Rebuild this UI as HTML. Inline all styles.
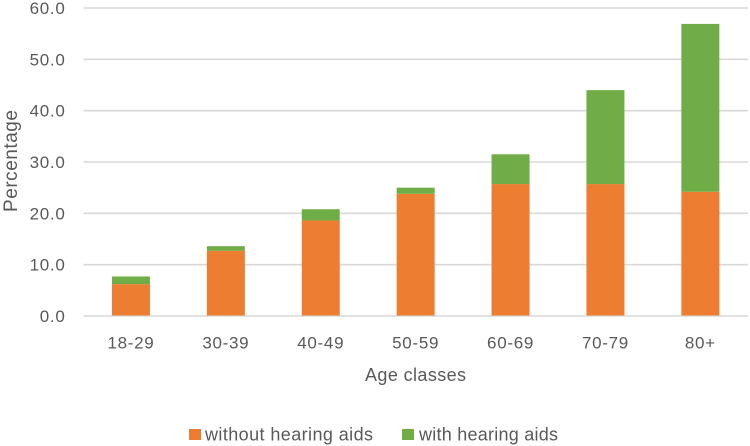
<!DOCTYPE html>
<html>
<head>
<meta charset="utf-8">
<style>
html,body{margin:0;padding:0;background:#fff;width:750px;height:446px;overflow:hidden}
svg{display:block;font-family:"Liberation Sans",sans-serif;fill:#595959;filter:blur(0.35px)}
</style>
</head>
<body>
<svg id="chart" width="750" height="446" viewBox="0 0 750 446" xmlns="http://www.w3.org/2000/svg">
  <text x="415.5" y="381" text-anchor="middle" font-size="18" textLength="101" lengthAdjust="spacing">Age classes</text>
  <text transform="translate(17,161) rotate(-90)" text-anchor="middle" font-size="19" textLength="102" lengthAdjust="spacing">Percentage</text>
  <rect x="189" y="429" width="12" height="11" fill="#ed7d31"/>
  <text x="205" y="440.5" font-size="18" textLength="168" lengthAdjust="spacing">without hearing aids</text>
  <rect x="402" y="429" width="12" height="11" fill="#70ad47"/>
  <text x="419" y="440.5" font-size="18" textLength="139" lengthAdjust="spacing">with hearing aids</text>
</svg>
<script>
const categories = ["18-29","30-39","40-49","50-59","60-69","70-79","80+"];
const withoutAids = [6.2,12.7,18.6,23.8,25.7,25.7,24.2];
const withAids = [1.5,0.9,2.2,1.2,5.8,18.3,32.7];
const yTicks = [0,10,20,30,40,50,60];
const yTickLabels = ["0.0","10.0","20.0","30.0","40.0","50.0","60.0"];
const seriesNames = ["without hearing aids","with hearing aids"];

const svg = document.getElementById('chart');
const NS = 'http://www.w3.org/2000/svg';
const left = 83.5, right = 748, y0 = 316, y60 = 8, barW = 38;
const yScale = v => y0 - (v / 60) * (y0 - y60);
const band = (right - left - 0.2) / categories.length;
const xCenter = i => left + band * (i + 0.5);

function make(tag, attrs, text) {
  const el = document.createElementNS(NS, tag);
  for (const k in attrs) el.setAttribute(k, attrs[k]);
  if (text !== undefined) el.textContent = text;
  svg.appendChild(el);
  return el;
}

yTicks.forEach((t, i) => {
  const line = make('line', {x1:left, x2:right, y1:yScale(t), y2:yScale(t), stroke:'#d9d9d9', 'stroke-width':1.6});
  
  
  const label = make('text', {x:65.5, y:yScale(t)+6, 'text-anchor':'end', 'font-size':17, 'letter-spacing':0.7}, yTickLabels[i]);
  
  
});

categories.forEach((c, i) => {
  const x = xCenter(i) - barW / 2;
  const a = make('rect', {x:x, y:yScale(withoutAids[i]), width:barW, height:y0 - yScale(withoutAids[i]) - 0.5, fill:'#ed7d31'});
  
  
  const total = withoutAids[i] + withAids[i];
  const b = make('rect', {x:x, y:yScale(total), width:barW, height:yScale(withoutAids[i]) - yScale(total), fill:'#70ad47'});
  
  
  const label = make('text', {x:xCenter(i), y:348.5, 'text-anchor':'middle', 'font-size':17, 'letter-spacing':0.7}, c);
  
  
});
</script>
</body>
</html>
